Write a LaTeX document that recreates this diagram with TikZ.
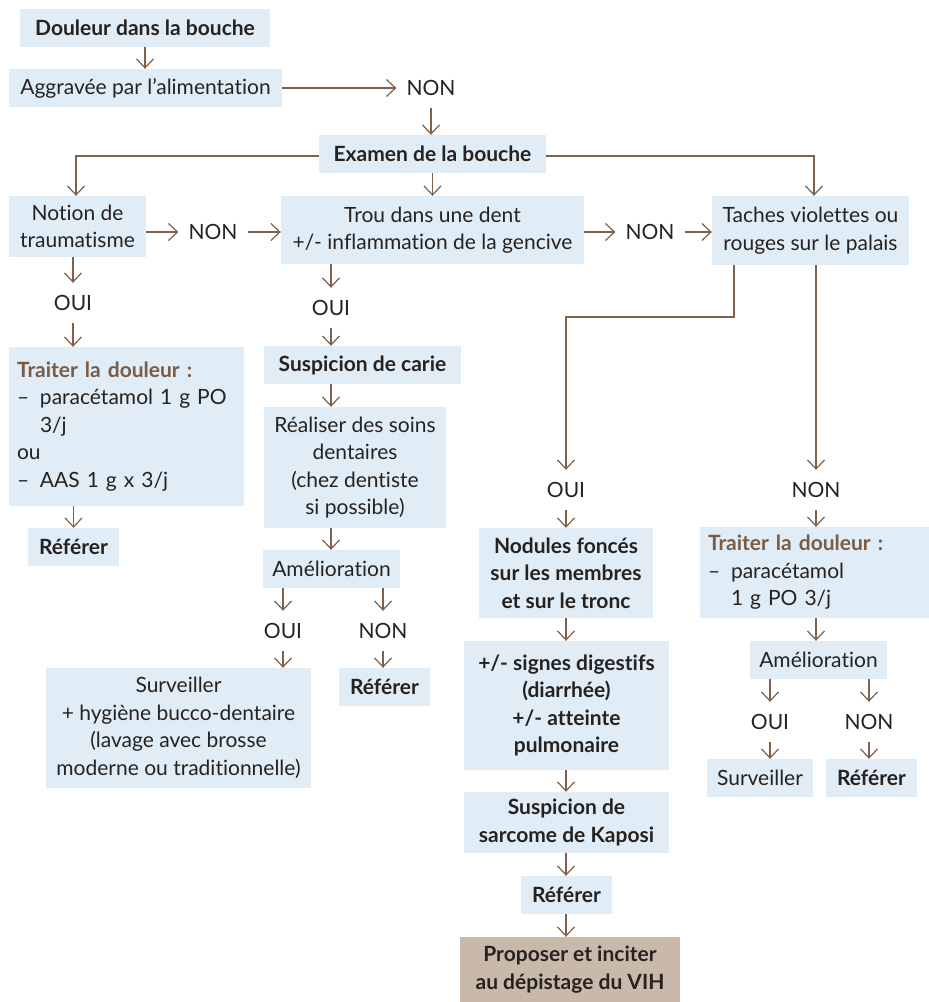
\documentclass[tikz,border=0pt]{standalone}
\usepackage{fontspec}
\setmainfont{Lato}[Ligatures=NoCommon]
\usetikzlibrary{arrows.meta,calc}
\definecolor{boxblue}{RGB}{225,237,246}
\definecolor{brn}{RGB}{128,96,74}
\definecolor{ttl}{RGB}{123,91,67}
\definecolor{txt}{RGB}{38,34,32}
\definecolor{finalfill}{RGB}{201,185,170}
\newcommand\fnt{\fontsize{21}{27.5}\selectfont}
\newcommand\dsh{\makebox[23pt][l]{–}}
\tikzset{
  box/.style={fill=boxblue, inner sep=0, align=center, font=\fnt, text=txt},
  bbox/.style={box, font=\fnt\bfseries},
  lbox/.style={fill=boxblue, inner xsep=8, inner ysep=0, align=left, font=\fnt, text=txt},
  lbl/.style={inner xsep=10, inner ysep=0, minimum height=40, font=\fnt, text=txt},
  arr/.style={draw=brn, line width=1.2, -{Straight Barb[length=9,width=17]}},
}
\begin{document}
\begin{tikzpicture}[x=1pt,y=-1pt]
\useasboundingbox (0,0) rectangle (929,1002);
% top
\node[bbox, minimum width=250, minimum height=38] (d1) at (145,28) {Douleur dans la bouche};
\node[box, minimum width=273, minimum height=38] (d2) at (145.5,88) {Aggravée par l’alimentation};
\node[lbl] (non1) at (431,88) {NON};
\node[bbox, minimum width=227, minimum height=38] (exam) at (432.5,154) {Examen de la bouche};
% row 2
\node[box, minimum width=137, minimum height=61] (notion) at (77.5,226.5) {Notion de\\traumatisme};
\node[lbl] (non2) at (213,232) {NON};
\node[box, minimum width=303, minimum height=68] (trou) at (432.5,230) {Trou dans une dent\\+/- inflammation de la gencive};
\node[lbl] (non3) at (650,232) {NON};
\node[box, minimum width=197, minimum height=69] (taches) at (810.5,230.5) {Taches violettes ou\\rouges sur le palais};
% left column
\node[lbl] (oui1) at (73,303) {OUI};
\node[lbox, text width=219, minimum height=159] (traiter1) at (126.5,426.5) {\textcolor{ttl}{\bfseries Traiter la douleur :}\\\dsh paracétamol 1 g PO\\\hspace*{23pt}3/j\\ou\\\dsh AAS 1 g x 3/j};
\node[bbox, minimum width=91, minimum height=38] (ref1) at (73.5,547) {Référer};
% middle column
\node[lbl] (oui2) at (331,308) {OUI};
\node[bbox, minimum width=197, minimum height=38] (carie) at (362.5,365) {Suspicion de carie};
\node[box, minimum width=182, minimum height=121] (realiser) at (355,467.5) {Réaliser des soins\\dentaires\\(chez dentiste\\si possible)};
\node[box, minimum width=137, minimum height=38] (amel1) at (331.5,569) {Amélioration};
\node[lbl] (oui3) at (283,631) {OUI};
\node[lbl] (non4) at (383,631) {NON};
\node[box, minimum width=265, minimum height=120] (surv1) at (178.5,728) {Surveiller\\+ hygiène bucco-dentaire\\(lavage avec brosse\\moderne ou traditionnelle)};
\node[bbox, minimum width=91, minimum height=38] (ref2) at (384.5,687) {Référer};
% taches branch
\coordinate (tl) at (734,317);
\node[lbl] (oui4) at (566,490) {OUI};
\node[lbl] (non5) at (816,490) {NON};
\node[bbox, minimum width=174, minimum height=90] (nodules) at (566,573) {Nodules foncés\\sur les membres\\et sur le tronc};
\node[bbox, minimum width=205, minimum height=129] (signes) at (566.5,705.5) {+/- signes digestifs\\(diarrhée)\\+/- atteinte\\pulmonaire};
\node[bbox, minimum width=205, minimum height=61] (kaposi) at (566.5,822.5) {Suspicion de\\sarcome de Kaposi};
\node[bbox, minimum width=91, minimum height=38] (ref3) at (566.5,895) {Référer};
\node[box, fill=finalfill, font=\fnt\bfseries, minimum width=220, minimum height=65] (final) at (570,969.5) {Proposer et inciter\\au dépistage du VIH};
% right column
\node[lbox, text width=213, minimum height=91] (traiter2) at (814.5,572.5) {\textcolor{ttl}{\bfseries Traiter la douleur :}\\\dsh paracétamol\\\hspace*{23pt}1 g PO 3/j};
\node[box, minimum width=137, minimum height=38] (amel2) at (818.5,660) {Amélioration};
\node[lbl] (oui5) at (770,722) {OUI};
\node[lbl] (non6) at (869,722) {NON};
\node[box, minimum width=106, minimum height=38] (surv2) at (760,778) {Surveiller};
\node[bbox, minimum width=91, minimum height=38] (ref4) at (871.5,778) {Référer};
% connectors
\draw[arr] (d1) -- (d1 |- d2.north);
\draw[arr] (d2.east) -- (non1.west);
\draw[arr] (non1.south) -- (non1 |- exam.north);
\draw[arr] (exam.west |- 0,156) -| ([xshift=-1.5]notion.north);
\draw[arr] (exam.south) -- (trou.north);
\draw[arr] (exam.east |- 0,156) -| ([xshift=3.5]taches.north);
\draw[arr] (notion.east |- non2) -- (non2.west);
\draw[arr] (non2.east) -- (trou.west |- non2);
\draw[arr] (trou.east |- non3) -- (non3.west);
\draw[arr] (non3.east) -- (taches.west |- non3);
\draw[arr] (oui1 |- notion.south) -- (oui1.north);
\draw[arr] (oui1.south) -- (oui1 |- traiter1.north);
\draw[arr] (ref1 |- traiter1.south) -- (ref1.north);
\draw[arr] (oui2 |- trou.south) -- (oui2.north);
\draw[arr] (oui2.south) -- (oui2 |- carie.north);
\draw[arr] (oui2 |- carie.south) -- (oui2 |- realiser.north);
\draw[arr] (oui2 |- realiser.south) -- (oui2 |- amel1.north);
\draw[arr] (oui3 |- amel1.south) -- (oui3.north);
\draw[arr] (oui3.south) -- (oui3 |- surv1.north);
\draw[arr] (non4 |- amel1.south) -- (non4.north);
\draw[arr] (non4.south) -- (non4 |- ref2.north);
\draw[arr] (taches.south -| tl) -- (tl) -| (oui4.north);
\draw[arr] (taches.south -| non5) -- (non5.north);
\draw[arr] (oui4.south) -- (oui4 |- nodules.north);
\draw[arr] (oui4 |- nodules.south) -- (oui4 |- signes.north);
\draw[arr] (oui4 |- signes.south) -- (oui4 |- kaposi.north);
\draw[arr] (oui4 |- kaposi.south) -- (oui4 |- ref3.north);
\draw[arr] (oui4 |- ref3.south) -- (oui4 |- final.north);
\draw[arr] (non5.south) -- (non5 |- traiter2.north);
\draw[arr] (non5 |- traiter2.south) -- (non5 |- amel2.north);
\draw[arr] (oui5 |- amel2.south) -- (oui5.north);
\draw[arr] (oui5.south) -- (oui5 |- surv2.north);
\draw[arr] (non6 |- amel2.south) -- (non6.north);
\draw[arr] (non6.south) -- (non6 |- ref4.north);
\end{tikzpicture}
\end{document}
